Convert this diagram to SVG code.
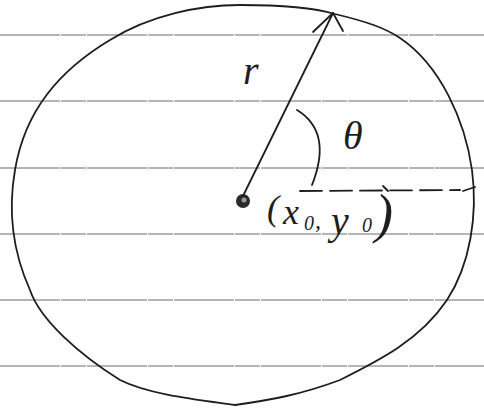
<svg xmlns="http://www.w3.org/2000/svg" width="484" height="413" viewBox="0 0 484 413">
<style>
.rule{stroke:#5a5a5a;stroke-width:0.9;stroke-dasharray:60 1 25 1;fill:none}
.ink{stroke:#1e1e1e;stroke-width:1.8;fill:none;stroke-linecap:round;stroke-linejoin:round}
.hand{font-family:"Liberation Serif","DejaVu Serif",serif;font-style:italic;fill:#1e1e1e}
</style>
<rect x="0" y="0" width="484" height="413" fill="#ffffff"/>
<g id="paper-lines">
<line class="rule" x1="0" y1="35" x2="484" y2="35"/>
<line class="rule" x1="0" y1="101" x2="484" y2="101"/>
<line class="rule" x1="0" y1="168" x2="484" y2="168"/>
<line class="rule" x1="0" y1="234" x2="484" y2="234"/>
<line class="rule" x1="0" y1="300" x2="484" y2="300"/>
<line class="rule" x1="0" y1="366" x2="484" y2="366"/>
</g>
<g id="circle">
<path class="ink" d="M 240 5 C 290 5, 318 9, 335 14 C 368 22, 385 28, 400 38 C 440 65, 465 120, 472 170 C 478 215, 470 265, 447 300 C 420 340, 380 360, 340 380 C 300 395, 270 400, 235 405 C 200 400, 150 395, 120 380 C 80 355, 40 320, 30 290 C 12 250, 8 210, 15 170 C 25 110, 60 70, 110 40 C 150 15, 200 5, 240 5 Z"/>
</g>
<g id="center">
<circle cx="243" cy="201" r="7" fill="#2a2a2a"/>
<circle cx="244" cy="200" r="2.5" fill="#9a9a9a"/>
</g>
<g id="connectors">
<path id="radius" class="ink" d="M 243 196 L 333 13"/>
<path id="arrowhead" class="ink" d="M 313 32 L 333 13 L 343 31"/>
<path id="reference-line" class="ink" stroke-width="1.4" stroke-dasharray="22 8" d="M 300 191 L 460 190"/>
<path class="ink" stroke-width="1.4" d="M 463 191 L 475 187"/>
<path class="ink" stroke-width="1.4" d="M 383 186 L 388 191"/>
<path id="angle-arc" class="ink" stroke-width="2.6" d="M 297 110 Q 333 132 312 185"/>
</g>
<g id="labels">
<text class="hand" x="243" y="84" font-size="40">r</text>
<text class="hand" x="343" y="149" font-size="40">θ</text>
<text class="hand" font-size="36"><tspan x="267" y="220">(</tspan><tspan x="283" y="224">x</tspan><tspan x="304" y="230" font-size="20">0</tspan><tspan x="315" y="228" font-size="24">,</tspan><tspan x="331" y="234" font-size="40">y</tspan><tspan x="362" y="232" font-size="20">0</tspan><tspan x="375" y="232" font-size="54">)</tspan></text>
</g>
</svg>
